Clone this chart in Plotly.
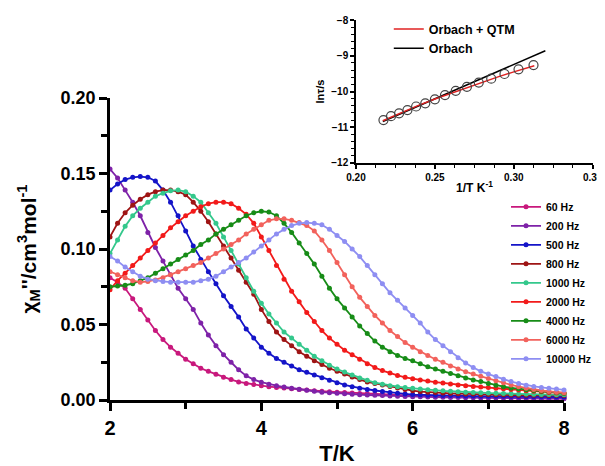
import plotly.graph_objects as go

# ---------------- main panel data ----------------
T_K = [2.0, 2.1, 2.2, 2.3, 2.4, 2.5, 2.6, 2.7, 2.8, 2.9,
       3.0, 3.1, 3.2, 3.3, 3.4, 3.5, 3.6, 3.7, 3.8, 3.9,
       4.0, 4.1, 4.2, 4.3, 4.4, 4.5, 4.6, 4.7, 4.8, 4.9,
       5.0, 5.1, 5.2, 5.3, 5.4, 5.5, 5.6, 5.7, 5.8, 5.9,
       6.0, 6.1, 6.2, 6.3, 6.4, 6.5, 6.6, 6.7, 6.8, 6.9,
       7.0, 7.1, 7.2, 7.3, 7.4, 7.5, 7.6, 7.7, 7.8, 7.9, 8.0]

chi_60Hz = [0.081, 0.078, 0.074, 0.067, 0.060, 0.053, 0.046, 0.040, 0.035, 0.031,
            0.027, 0.024, 0.021, 0.019, 0.017, 0.015, 0.0135, 0.012, 0.011, 0.0102,
            0.0095, 0.0088, 0.0083, 0.0079, 0.0075, 0.0070, 0.0066, 0.0062, 0.0058, 0.0055,
            0.0052, 0.0049, 0.0046, 0.0043, 0.0041, 0.0039, 0.0037, 0.0035, 0.0033, 0.0031,
            0.0029, 0.0027, 0.0026, 0.0025, 0.0024, 0.0023, 0.0022, 0.0021, 0.0020, 0.0019,
            0.0018, 0.0017, 0.0016, 0.0015, 0.0015, 0.0014, 0.0013, 0.0013, 0.0012, 0.0012, 0.0011]

chi_200Hz = [0.153, 0.147, 0.139, 0.131, 0.122, 0.111, 0.101, 0.092, 0.083, 0.074,
             0.067, 0.060, 0.051, 0.043, 0.036, 0.030, 0.025, 0.020, 0.016, 0.0135,
             0.0118, 0.0105, 0.0095, 0.0086, 0.0078, 0.0071, 0.0064, 0.0058, 0.0052, 0.0048,
             0.0044, 0.0041, 0.0038, 0.0035, 0.0033, 0.0031, 0.0029, 0.0027, 0.0025, 0.0023,
             0.0022, 0.0021, 0.0020, 0.0019, 0.0018, 0.0017, 0.0016, 0.0015, 0.0015, 0.0014,
             0.0014, 0.0013, 0.0013, 0.0012, 0.0012, 0.0011, 0.0011, 0.0010, 0.0010, 0.0010, 0.0009]

chi_500Hz = [0.139, 0.143, 0.146, 0.1475, 0.148, 0.1475, 0.145, 0.139, 0.131, 0.122,
             0.112, 0.102, 0.093, 0.085, 0.077, 0.069, 0.062, 0.055, 0.047, 0.041,
             0.035, 0.031, 0.0275, 0.025, 0.0225, 0.020, 0.0183, 0.0166, 0.0148, 0.0130,
             0.0115, 0.0100, 0.0088, 0.0078, 0.0070, 0.0063, 0.0057, 0.0050, 0.0045, 0.0040,
             0.0036, 0.0034, 0.0032, 0.0031, 0.0030, 0.0029, 0.0028, 0.0027, 0.0026, 0.0025,
             0.0025, 0.0024, 0.0024, 0.0023, 0.0023, 0.0022, 0.0022, 0.0021, 0.0021, 0.0020, 0.0020]

chi_800Hz = [0.108, 0.117, 0.124, 0.129, 0.133, 0.136, 0.138, 0.139, 0.139, 0.138,
             0.136, 0.131, 0.125, 0.118, 0.110, 0.102, 0.094, 0.086, 0.078, 0.070,
             0.060, 0.052, 0.045, 0.040, 0.036, 0.032, 0.029, 0.026, 0.0235, 0.021,
             0.019, 0.0172, 0.0152, 0.0135, 0.0120, 0.0110, 0.0100, 0.0090, 0.0080, 0.0070,
             0.0062, 0.0056, 0.0052, 0.0049, 0.0046, 0.0044, 0.0042, 0.0040, 0.0039, 0.0037,
             0.0036, 0.0035, 0.0034, 0.0033, 0.0032, 0.0032, 0.0031, 0.0031, 0.0030, 0.0030, 0.0030]

chi_1000Hz = [0.097, 0.106, 0.115, 0.122, 0.127, 0.131, 0.135, 0.137, 0.1385, 0.139,
              0.138, 0.135, 0.131, 0.124, 0.117, 0.108, 0.099, 0.090, 0.081, 0.072,
              0.064, 0.057, 0.051, 0.045, 0.041, 0.037, 0.033, 0.029, 0.026, 0.023,
              0.0205, 0.0185, 0.0165, 0.0145, 0.013, 0.0115, 0.0105, 0.0095, 0.0088, 0.0082,
              0.0077, 0.0072, 0.0068, 0.0064, 0.0061, 0.0058, 0.0055, 0.0052, 0.0050, 0.0048,
              0.0046, 0.0044, 0.0043, 0.0041, 0.0040, 0.0039, 0.0038, 0.0037, 0.0036, 0.0035, 0.0034]

chi_2000Hz = [0.073, 0.079, 0.084, 0.089, 0.094, 0.099, 0.104, 0.109, 0.114, 0.118,
              0.122, 0.125, 0.128, 0.130, 0.131, 0.131, 0.130, 0.127, 0.123, 0.117,
              0.108, 0.099, 0.089, 0.080, 0.072, 0.065, 0.058, 0.052, 0.046, 0.041,
              0.037, 0.033, 0.030, 0.027, 0.024, 0.0215, 0.0195, 0.0178, 0.0163, 0.0150,
              0.0140, 0.0132, 0.0125, 0.0118, 0.0112, 0.0106, 0.0100, 0.0095, 0.0090, 0.0086,
              0.0082, 0.0078, 0.0074, 0.0070, 0.0066, 0.0062, 0.0058, 0.0054, 0.0050, 0.0047, 0.0044]

chi_4000Hz = [0.075, 0.0755, 0.076, 0.077, 0.079, 0.081, 0.084, 0.087, 0.090, 0.093,
              0.096, 0.099, 0.103, 0.106, 0.110, 0.113, 0.116, 0.119, 0.122, 0.124,
              0.125, 0.1245, 0.122, 0.117, 0.111, 0.104, 0.097, 0.090, 0.082, 0.074,
              0.067, 0.061, 0.055, 0.049, 0.044, 0.039, 0.035, 0.032, 0.0295, 0.0275,
              0.026, 0.024, 0.022, 0.0205, 0.019, 0.0175, 0.016, 0.0145, 0.0133, 0.0122,
              0.0110, 0.0098, 0.0088, 0.0080, 0.0074, 0.0068, 0.0063, 0.0058, 0.0054, 0.0050, 0.0045]

chi_6000Hz = [0.085, 0.083, 0.081, 0.079, 0.078, 0.0785, 0.0795, 0.081, 0.083, 0.085,
              0.087, 0.089, 0.091, 0.094, 0.097, 0.100, 0.103, 0.106, 0.110, 0.113,
              0.116, 0.119, 0.120, 0.120, 0.119, 0.1175, 0.1155, 0.112, 0.106, 0.099,
              0.091, 0.083, 0.075, 0.068, 0.062, 0.056, 0.051, 0.046, 0.042, 0.038,
              0.035, 0.032, 0.0295, 0.027, 0.025, 0.0225, 0.0205, 0.0187, 0.0172, 0.0157,
              0.0143, 0.0128, 0.0115, 0.0100, 0.0088, 0.0078, 0.0070, 0.0063, 0.0057, 0.0052, 0.0048]

chi_10000Hz = [0.095, 0.092, 0.088, 0.085, 0.082, 0.080, 0.079, 0.0785, 0.078, 0.078,
               0.078, 0.078, 0.079, 0.080, 0.082, 0.085, 0.088, 0.091, 0.094, 0.098,
               0.102, 0.106, 0.110, 0.113, 0.1155, 0.117, 0.1175, 0.117, 0.116, 0.113,
               0.109, 0.105, 0.100, 0.095, 0.089, 0.083, 0.077, 0.071, 0.066, 0.061,
               0.056, 0.051, 0.045, 0.040, 0.036, 0.032, 0.028, 0.0245, 0.0215, 0.019,
               0.0172, 0.0155, 0.0138, 0.0122, 0.0110, 0.0098, 0.0090, 0.0083, 0.0077, 0.0072, 0.0067]

freq_labels = ["60 Hz", "200 Hz", "500 Hz", "800 Hz", "1000 Hz",
               "2000 Hz", "4000 Hz", "6000 Hz", "10000 Hz"]
freq_data = [chi_60Hz, chi_200Hz, chi_500Hz, chi_800Hz, chi_1000Hz,
             chi_2000Hz, chi_4000Hz, chi_6000Hz, chi_10000Hz]
freq_colors = ["#C8187C", "#7E22A8", "#1414C8", "#9E1414", "#34C88C",
               "#F21A1A", "#178C17", "#F2625C", "#8E8EF2"]

# ---------------- inset data ----------------
inv_T = [0.2174, 0.2222, 0.2273, 0.2326, 0.2381, 0.2439, 0.2500, 0.2564,
         0.2632, 0.2703, 0.2778, 0.2857, 0.2941, 0.3030, 0.3125]
ln_tau = [-10.80, -10.69, -10.61, -10.52, -10.42, -10.33, -10.22, -10.10,
          -9.98, -9.87, -9.75, -9.64, -9.51, -9.38, -9.26]

fit_qtm_x = [0.217, 0.23, 0.24, 0.25, 0.26, 0.27, 0.28, 0.29, 0.30, 0.313]
fit_qtm_y = [-10.82, -10.56, -10.38, -10.21, -10.05, -9.89, -9.74, -9.59, -9.45, -9.28]

fit_orbach_x = [0.217, 0.32]
fit_orbach_y = [-10.84, -8.86]

inset_x_ticks = [0.20, 0.25, 0.30, 0.35]
inset_x_ticklabels = ["0.20", "0.25", "0.30", "0.35"]

FONT = "Liberation Sans, Arial, sans-serif"

fig = go.Figure()

for name, ys, col in zip(freq_labels, freq_data, freq_colors):
    fig.add_trace(go.Scatter(
        x=T_K, y=ys, mode="lines+markers", name=name,
        line=dict(color=col, width=1.8),
        marker=dict(color=col, size=5),
        cliponaxis=False, legend="legend"))

fig.add_trace(go.Scatter(
    x=fit_orbach_x, y=fit_orbach_y, mode="lines", name="Orbach",
    line=dict(color="black", width=1.5), xaxis="x2", yaxis="y2",
    legend="legend2", legendrank=2))
fig.add_trace(go.Scatter(
    x=fit_qtm_x, y=fit_qtm_y, mode="lines", name="Orbach + QTM",
    line=dict(color="#E02222", width=1.5), xaxis="x2", yaxis="y2",
    legend="legend2", legendrank=1))
fig.add_trace(go.Scatter(
    x=inv_T, y=ln_tau, mode="markers", showlegend=False,
    marker=dict(symbol="circle-open", size=9, color="#444444", line=dict(width=1.2)),
    xaxis="x2", yaxis="y2", cliponaxis=False))

axis_main = dict(showline=True, linecolor="black", linewidth=2.5, showgrid=False,
                 zeroline=False, ticks="outside", ticklen=8, tickwidth=2.5,
                 tickcolor="black", automargin=False)
axis_inset = dict(showline=True, linecolor="black", linewidth=1.5, showgrid=False,
                  zeroline=False, ticks="outside", ticklen=4, tickwidth=1.5,
                  tickcolor="black", automargin=False)

fig.update_layout(
    width=605, height=458,
    margin=dict(l=102, r=20, t=12, b=66, autoexpand=False),
    paper_bgcolor="white", plot_bgcolor="rgba(0,0,0,0)",
    font=dict(family=FONT, color="black"),
    xaxis=dict(**axis_main, domain=[0, 0.94], range=[2, 8], tick0=2, dtick=2,
               minor=dict(ticks="outside", dtick=1, tick0=2, ticklen=6, tickwidth=2.5,
                          tickcolor="black"),
               tickfont=dict(size=20, weight="bold", family=FONT),
               title=dict(text="T/K", font=dict(size=22, weight="bold", family=FONT),
                          standoff=9)),
    yaxis=dict(**axis_main, domain=[0, 0.7947], range=[0, 0.2], tick0=0, dtick=0.05,
               tickformat=".2f",
               minor=dict(ticks="outside", dtick=0.025, tick0=0, ticklen=6, tickwidth=2.5,
                          tickcolor="black"),
               tickfont=dict(size=18, weight="bold", family=FONT),
               title=dict(text="χ<sub>M</sub>''/cm<sup>3</sup>mol<sup>-1</sup>",
                          font=dict(size=21, weight="bold", family=FONT),
                          standoff=19)),
    xaxis2=dict(**axis_inset, domain=[0.5093, 1.0], anchor="y2", range=[0.20, 0.3502],
                tickmode="array", tickvals=inset_x_ticks, ticktext=inset_x_ticklabels,
                ticklabeloverflow="allow",
                minor=dict(ticks="outside", dtick=0.0125, tick0=0.2, ticklen=3,
                           tickwidth=1.2, tickcolor="black"),
                tickfont=dict(size=10, weight="bold", family=FONT),
                title=dict(text="1/T K<sup>-1</sup>",
                           font=dict(size=12, weight="bold", family=FONT), standoff=2)),
    yaxis2=dict(**axis_inset, domain=[0.6237, 1.0], anchor="x2", range=[-12, -8],
                tick0=-12, dtick=1,
                minor=dict(ticks="outside", dtick=0.2, tick0=-12, ticklen=3,
                           tickwidth=1.2, tickcolor="black"),
                tickfont=dict(size=10, weight="bold", family=FONT),
                title=dict(text="lnτ/s", font=dict(size=11, weight="bold", family=FONT),
                           standoff=4)),
    legend=dict(x=0.8199, y=0.5466, xanchor="left", yanchor="top",
                bgcolor="rgba(0,0,0,0)", font=dict(size=10.5, weight="bold", family=FONT),
                tracegroupgap=0),
    legend2=dict(x=0.5772, y=1.015, xanchor="left", yanchor="top",
                 bgcolor="rgba(0,0,0,0)", font=dict(size=12.5, weight="bold", family=FONT),
                 traceorder="normal"),
)

fig.write_html("out.html")
